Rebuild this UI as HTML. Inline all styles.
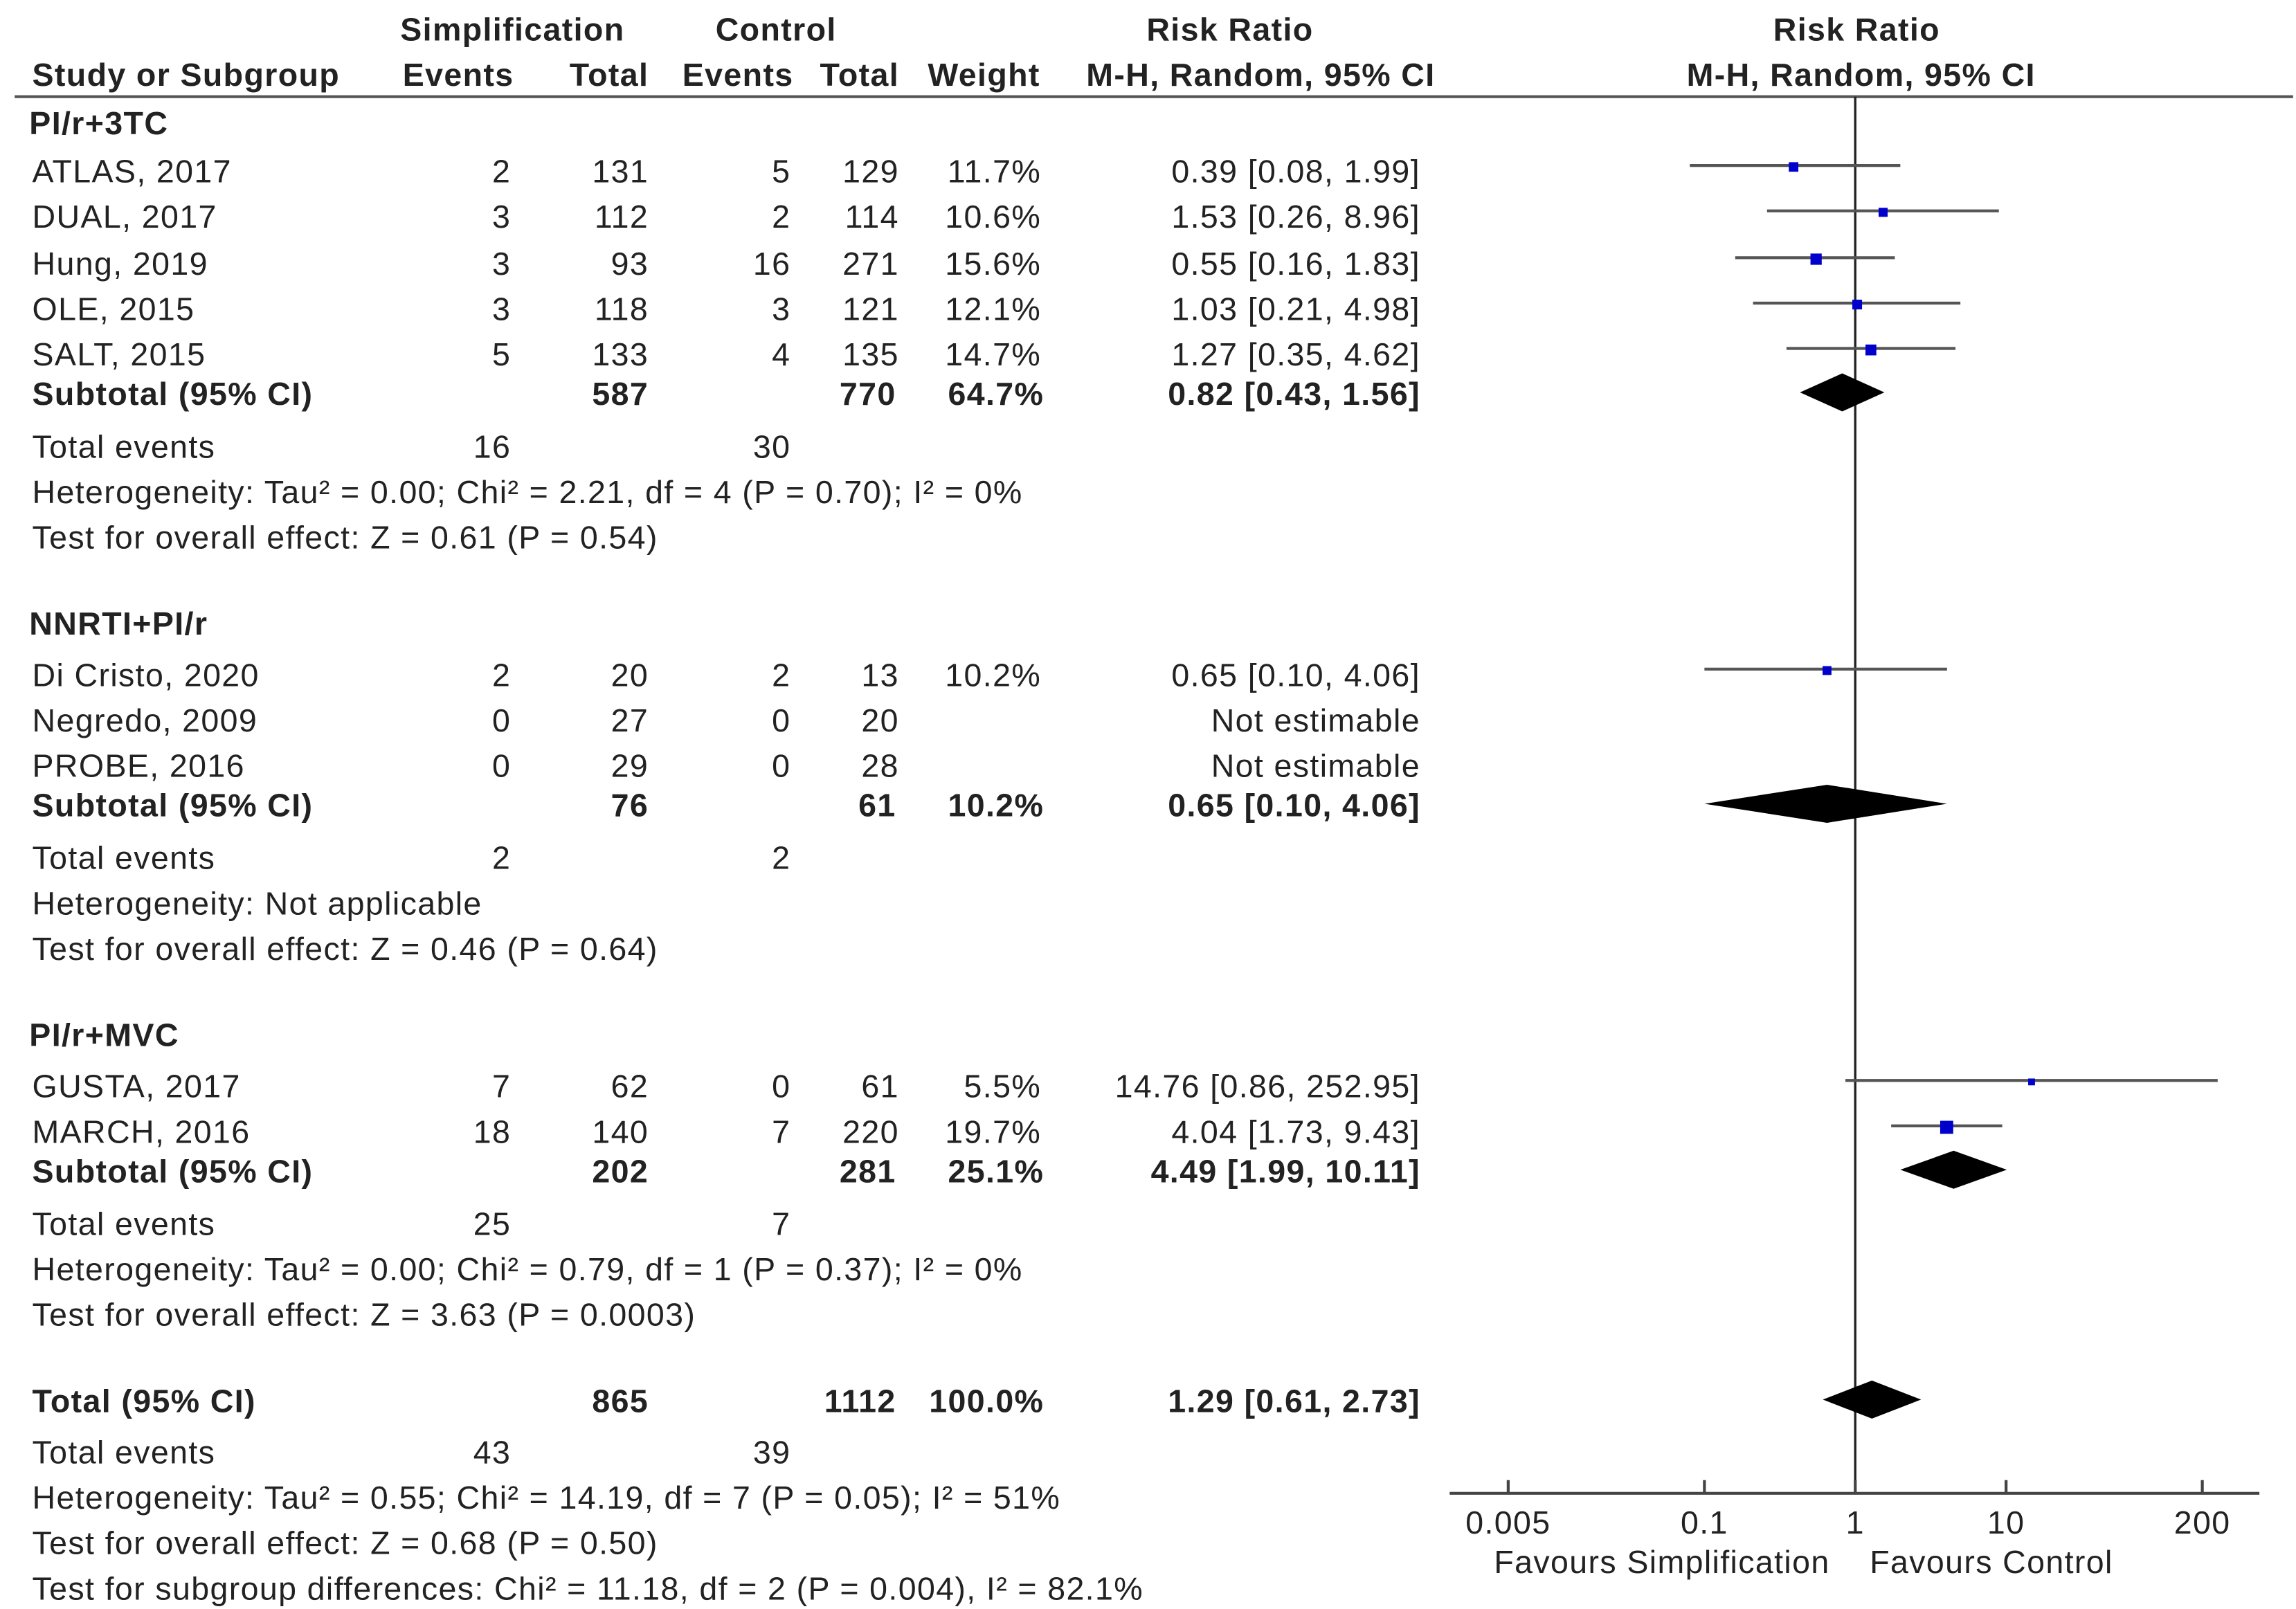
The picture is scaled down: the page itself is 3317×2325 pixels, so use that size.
<!DOCTYPE html>
<html><head><meta charset="utf-8"><style>
html,body{margin:0;padding:0;background:#fff;}
svg{display:block;}
text{font-family:"Liberation Sans",Arial,sans-serif;font-size:22px;letter-spacing:0.65px;fill:#222;dominant-baseline:central;}
.b{font-weight:bold;}
</style></head><body>
<svg id="plot" width="3317" height="2325" viewBox="0 0 1568 1099" xmlns="http://www.w3.org/2000/svg">
<g id="g"></g>
</svg>
<script>
const studyNames=["ATLAS, 2017","DUAL, 2017","Hung, 2019","OLE, 2015","SALT, 2015","Di Cristo, 2020","Negredo, 2009","PROBE, 2016","GUSTA, 2017","MARCH, 2016"];
const simEvents=[2,3,3,3,5,2,0,0,7,18];
const simTotal=[131,112,93,118,133,20,27,29,62,140];
const ctlEvents=[5,2,16,3,4,2,0,0,0,7];
const ctlTotal=[129,114,271,121,135,13,20,28,61,220];
const weights=[11.7,10.6,15.6,12.1,14.7,10.2,null,null,5.5,19.7];
const rr=[0.39,1.53,0.55,1.03,1.27,0.65,null,null,14.76,4.04];
const rrLo=[0.08,0.26,0.16,0.21,0.35,0.10,null,null,0.86,1.73];
const rrHi=[1.99,8.96,1.83,4.98,4.62,4.06,null,null,252.95,9.43];
const subNames=["Subtotal (95% CI)","Subtotal (95% CI)","Subtotal (95% CI)","Total (95% CI)"];
const subSimTotal=[587,76,202,865];
const subCtlTotal=[770,61,281,1112];
const subWeight=["64.7%","10.2%","25.1%","100.0%"];
const subRR=[0.82,0.65,4.49,1.29];
const subLo=[0.43,0.10,1.99,0.61];
const subHi=[1.56,4.06,10.11,2.73];
const subSimEvents=[16,2,25,43];
const subCtlEvents=[30,2,7,39];
const hetText=["Heterogeneity: Tau² = 0.00; Chi² = 2.21, df = 4 (P = 0.70); I² = 0%","Heterogeneity: Not applicable","Heterogeneity: Tau² = 0.00; Chi² = 0.79, df = 1 (P = 0.37); I² = 0%","Heterogeneity: Tau² = 0.55; Chi² = 14.19, df = 7 (P = 0.05); I² = 51%"];
const testText=["Test for overall effect: Z = 0.61 (P = 0.54)","Test for overall effect: Z = 0.46 (P = 0.64)","Test for overall effect: Z = 3.63 (P = 0.0003)","Test for overall effect: Z = 0.68 (P = 0.50)"];
const groupNames=["PI/r+3TC","NNRTI+PI/r","PI/r+MVC"];
const tickValues=[0.005,0.1,1,10,200];
const tickLabels=["0.005","0.1","1","10","200"];

const g=document.getElementById('g');
const NS="http://www.w3.org/2000/svg";
function el(tag,attrs,txt){const e=document.createElementNS(NS,tag);for(const k in attrs)e.setAttribute(k,attrs[k]);if(txt!==undefined)e.textContent=txt;g.appendChild(e);return e;}
function xs(v){return 1267+103*Math.log10(v);}
function T(x,y,s,anchor,cls,name){const e=el('text',{x:x,y:y,'text-anchor':anchor||'start',class:cls||''},s);

return e;}

T(350,20,"Simplification","middle","b","header-simplification");
T(530,20,"Control","middle","b","header-control");
T(840,20,"Risk Ratio","middle","b","header-risk-ratio");
T(1268,20,"Risk Ratio","middle","b","header-risk-ratio-plot");
T(22,51,"Study or Subgroup","start","b","header-study");
T(313,51,"Events","middle","b","header-sim-events");
T(416,51,"Total","middle","b","header-sim-total");
T(504,51,"Events","middle","b","header-ctl-events");
T(587,51,"Total","middle","b","header-ctl-total");
T(672,51,"Weight","middle","b","header-weight");
T(861,51,"M-H, Random, 95% CI","middle","b","header-ci");
T(1271,51,"M-H, Random, 95% CI","middle","b","header-ci-plot");
let ln=el('line',{x1:10,y1:66,x2:1566,y2:66,stroke:'#555','stroke-width':2});



const groupY=[84,426,707];
const studyY=[117,148,180,211,242,461,492,523,742,773];
const subY=[269,550,800,957];
const evY=[305,586,836,992];
const hetY=[336,617,867,1023];
const testY=[367,648,898,1054];

ln=el('line',{x1:1267,y1:66,x2:1267,y2:1020,stroke:'#222','stroke-width':1.6});



groupNames.forEach((n,i)=>T(20,groupY[i],n,"start","b","group-header"));

studyNames.forEach((n,i)=>{
  const y=studyY[i];
  T(22,y,n,"start","","study-name");
  T(349,y,String(simEvents[i]),"end","","sim-events");
  T(443,y,String(simTotal[i]),"end","","sim-total");
  T(540,y,String(ctlEvents[i]),"end","","ctl-events");
  T(614,y,String(ctlTotal[i]),"end","","ctl-total");
  if(weights[i]!==null){
    T(711,y,weights[i].toFixed(1)+"%","end","","weight");
    T(970,y,rr[i].toFixed(2)+" ["+rrLo[i].toFixed(2)+", "+rrHi[i].toFixed(2)+"]","end","","ci-text");
    const l=el('line',{x1:xs(rrLo[i]),y1:y-4,x2:xs(rrHi[i]),y2:y-4,stroke:'#555','stroke-width':2});
    
    
    const s=3+weights[i]*0.3;
    const r=el('rect',{x:xs(rr[i])-s/2,y:y-4-s/2+1,width:s,height:s,fill:'#0000cc'});
    
    
  } else {
    T(970,y,"Not estimable","end","","ci-text");
  }
});

subNames.forEach((n,i)=>{
  const y=subY[i];
  T(22,y,n,"start","b","subtotal-label");
  T(443,y,String(subSimTotal[i]),"end","b","subtotal-sim-total");
  T(612,y,String(subCtlTotal[i]),"end","b","subtotal-ctl-total");
  T(713,y,subWeight[i],"end","b","subtotal-weight");
  T(970,y,subRR[i].toFixed(2)+" ["+subLo[i].toFixed(2)+", "+subHi[i].toFixed(2)+"]","end","b","subtotal-ci");
  const cy=y-1,h=13;
  const p=el('polygon',{points:[xs(subLo[i])+","+cy,xs(subRR[i])+","+(cy-h),xs(subHi[i])+","+cy,xs(subRR[i])+","+(cy+h)].join(" "),fill:'#000'});
  
  
  T(22,evY[i],"Total events","start","","total-events-label");
  T(349,evY[i],String(subSimEvents[i]),"end","","total-events-sim");
  T(540,evY[i],String(subCtlEvents[i]),"end","","total-events-ctl");
  T(22,hetY[i],hetText[i],"start","","heterogeneity");
  T(22,testY[i],testText[i],"start","","overall-effect");
});
T(22,1085,"Test for subgroup differences: Chi² = 11.18, df = 2 (P = 0.004), I² = 82.1%","start","","subgroup-differences");

ln=el('line',{x1:990,y1:1020,x2:1543,y2:1020,stroke:'#444','stroke-width':2});


tickValues.forEach((v,i)=>{
  const t=el('line',{x1:xs(v),y1:1011,x2:xs(v),y2:1020,stroke:'#444','stroke-width':2});
  
  
  T(xs(v),1040,tickLabels[i],"middle","","x-tick-label");
});
T(1135,1067,"Favours Simplification","middle","","favours-simplification");
T(1360,1067,"Favours Control","middle","","favours-control");
</script>
</body></html>
